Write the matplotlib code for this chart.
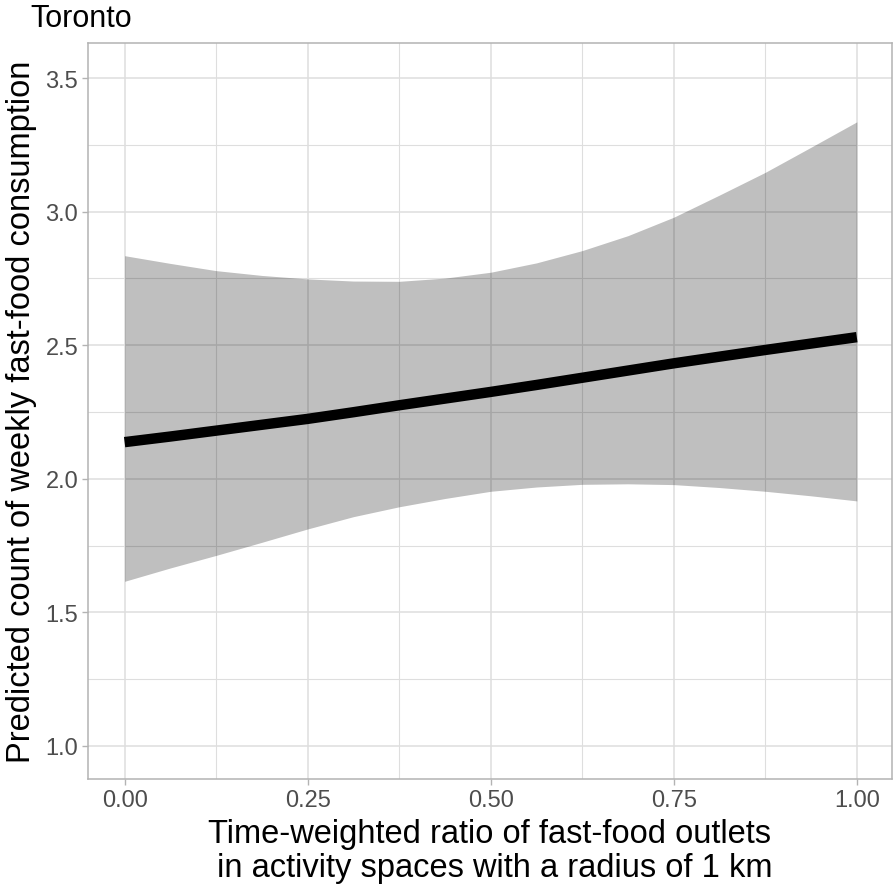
import matplotlib
matplotlib.use("Agg")
import matplotlib.pyplot as plt
from matplotlib.ticker import MultipleLocator

plt.rcParams['font.family'] = ['Liberation Sans', 'DejaVu Sans']

# values (every 1/16 along x)
ratio = [0.0, 0.0625, 0.125, 0.1875, 0.25, 0.3125, 0.375, 0.4375, 0.5,
         0.5625, 0.625, 0.6875, 0.75, 0.8125, 0.875, 0.9375, 1.0]
predicted = [2.137, 2.158, 2.180, 2.202, 2.224, 2.249, 2.275, 2.300, 2.325,
             2.351, 2.378, 2.405, 2.432, 2.457, 2.482, 2.506, 2.530]
upper = [2.835, 2.806, 2.779, 2.761, 2.748, 2.740, 2.739, 2.751, 2.773,
         2.808, 2.854, 2.910, 2.979, 3.062, 3.147, 3.241, 3.336]
lower = [1.616, 1.666, 1.713, 1.762, 1.812, 1.858, 1.895, 1.926, 1.953,
         1.969, 1.979, 1.981, 1.978, 1.967, 1.953, 1.936, 1.917]

x_ticks = [0.0, 0.25, 0.5, 0.75, 1.0]
y_ticks = [1.0, 1.5, 2.0, 2.5, 3.0, 3.5]

grid_col = '#DEDEDE'
border_col = '#B3B3B3'
text_col = '#4D4D4D'

fig = plt.figure(figsize=(8.96, 8.95), dpi=100)
ax = fig.add_axes([0.0982, 0.1285, 0.8973, 0.8223])

ax.fill_between(ratio, lower, upper, color='black', alpha=0.25, linewidth=0, zorder=2)
ax.plot(ratio, predicted, color='black', linewidth=7.5, solid_capstyle='butt', zorder=3)

ax.set_xlim(-0.05, 1.048)
ax.set_ylim(0.876, 3.631)
ax.set_xticks(x_ticks)
ax.set_xticklabels([f'{v:.2f}' for v in x_ticks])
ax.set_yticks(y_ticks)
ax.set_yticklabels([f'{v:.1f}' for v in y_ticks])
ax.xaxis.set_minor_locator(MultipleLocator(0.125))
ax.yaxis.set_minor_locator(MultipleLocator(0.25))

ax.set_axisbelow(True)
ax.grid(which='major', color=grid_col, linewidth=1.1, zorder=0)
ax.grid(which='minor', color=grid_col, linewidth=0.8, zorder=0)

for s in ax.spines.values():
    s.set_color(border_col)
    s.set_linewidth(1.1)

ax.tick_params(which='major', length=4, width=1.0, color=border_col,
               labelsize=17, labelcolor=text_col, pad=3)
ax.tick_params(which='minor', length=0)

ax.set_xlabel('Time-weighted ratio of fast-food outlets\n in activity spaces with a radius of 1 km',
              fontsize=23.5, color='black', labelpad=5, linespacing=1.15)
ax.set_ylabel('Predicted count of weekly fast-food consumption', fontsize=23.5,
              color='black', labelpad=6)

fig.text(30 / 896, 1 - 27 / 895, 'Toronto', fontsize=22, color='black', ha='left', va='baseline')

fig.savefig('out.png', dpi=100)
